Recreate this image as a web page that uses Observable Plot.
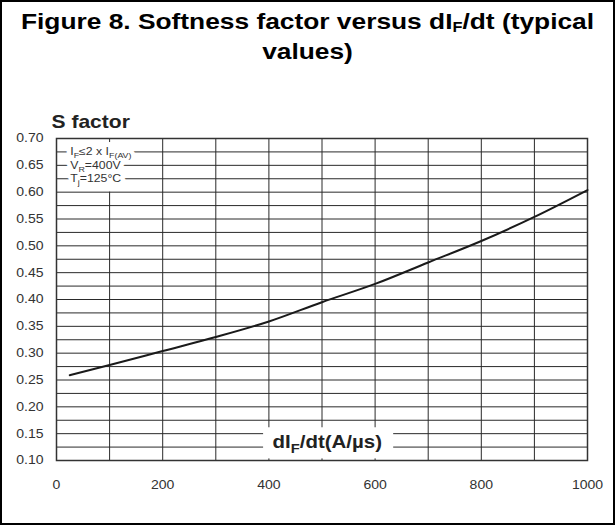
<!DOCTYPE html>
<html>
<head>
<meta charset="utf-8">
<script src="https://cdn.jsdelivr.net/npm/d3@7"></script>
<script src="https://cdn.jsdelivr.net/npm/@observablehq/plot@0.6"></script>
<style>
html, body { margin: 0; padding: 0; background: #fff; }
#fig { position: relative; width: 615px; height: 525px; overflow: hidden; font-family: "Liberation Sans", Arial, sans-serif; }
#chart { position: absolute; left: 0; top: 0; }
#title { position: absolute; left: 0; top: 7px; width: 615px; text-align: center; font-weight: bold; font-size: 22.5px; line-height: 30px; color: #000; transform: scaleX(1.17); transform-origin: center; }
#title sub { font-size: 0.62em; vertical-align: -0.2em; line-height: 0; }
#border { position: absolute; left: 0; top: 0; width: 615px; height: 525px; box-sizing: border-box; border: 2px solid #000; pointer-events: none; }
</style>
</head>
<body>
<div id="fig">
  <div id="chart"></div>
  <div id="title">Figure 8. Softness factor versus dI<sub>F</sub>/dt (typical<br>values)</div>
  <div id="border"></div>
</div>
<script>
// ---- data ----
const dIdt    = [25, 100, 200, 300, 400, 500, 600, 700, 800, 900, 1000];
const sFactor = [0.259, 0.278, 0.304, 0.330, 0.359, 0.395, 0.429, 0.469, 0.509, 0.554, 0.604];

const xTicks = [0, 200, 400, 600, 800, 1000];
const yTicks = [0.10, 0.15, 0.20, 0.25, 0.30, 0.35, 0.40, 0.45, 0.50, 0.55, 0.60, 0.65, 0.70];
const xGrid  = [0, 100, 200, 300, 400, 500, 600, 700, 800, 900, 1000];
const yGrid  = [0.10, 0.125, 0.15, 0.175, 0.20, 0.225, 0.25, 0.275, 0.30, 0.325, 0.35, 0.375, 0.40,
                0.425, 0.45, 0.475, 0.50, 0.525, 0.55, 0.575, 0.60, 0.625, 0.65, 0.675, 0.70];

const conditions      = ["I_{F}≤2 x I_{F(AV)}", "V_{R}=400V", "T_{j}=125°C"];
const conditionLevels = [0.675, 0.65, 0.625];
const yTitle = "S factor";
const xTitle = "dI_{F}/dt(A/µs)";

// annotation placement (data units)
const conditionX = 26;
const xTitlePos  = {x: 510, y: 0.134};
const xTitleBox  = {x1: 390, x2: 635, y1: 0.103, y2: 0.161};

const curve = dIdt.map((x, i) => ({x, s: sFactor[i]}));
const STRETCH = 1.17;
const gridColor = "#2a2a2a";

const condOpts = {x: () => conditionX, y: (d, i) => conditionLevels[i], text: d => d,
  textAnchor: "start", fontSize: 10.5};

const svg = Plot.plot({
  width: 615,
  height: 525,
  marginTop: 138,
  marginBottom: 65,
  marginLeft: 56,
  marginRight: 28,
  style: {fontFamily: "'Liberation Sans', Arial, sans-serif", fontSize: "12px", color: "#333", background: "transparent"},
  x: {domain: [0, 1000], ticks: xTicks, tickSize: 0, tickPadding: 20, tickFormat: d => String(d), label: null},
  y: {domain: [0.1, 0.7], ticks: yTicks, tickSize: 0, tickPadding: 13, tickFormat: d3.format(".2f"), label: null},
  marks: [
    Plot.ruleY(yGrid, {stroke: gridColor, strokeWidth: 1}),
    Plot.ruleX(xGrid.filter(v => v !== 100), {stroke: gridColor, strokeWidth: 1}),
    Plot.ruleX([100], {y1: 0.1, y2: 0.6, stroke: gridColor, strokeWidth: 1}),
    Plot.ruleX([100], {y1: 0.6925, y2: 0.7, stroke: gridColor, strokeWidth: 1}),
    Plot.rect([xTitleBox], {x1: "x1", x2: "x2", y1: "y1", y2: "y2", fill: "white"}),
    Plot.frame({stroke: "#333", strokeWidth: 1.5}),
    Plot.line(curve, {x: "x", y: "s", curve: "monotone-x", stroke: "#1a1a1a", strokeWidth: 2}),
    // white halo layer, then the text itself
    Plot.text(conditions, {...condOpts, fill: "white", stroke: "white", strokeWidth: 8}),
    Plot.text(conditions, {...condOpts, fill: "#333"}),
    Plot.text([xTitle], {x: () => xTitlePos.x, y: () => xTitlePos.y, text: d => d,
      fontWeight: "bold", fontSize: 17.5, fill: "#222"}),
    Plot.text([yTitle], {frameAnchor: "top-left", dx: -5, dy: -23, text: d => d,
      textAnchor: "start", fontWeight: "bold", fontSize: 18, fill: "#222"})
  ]
});
document.getElementById("chart").appendChild(svg);

// rich text (subscripts) and horizontal stretch of the glyphs to match the reference
d3.select(svg).selectAll("text").each(function () {
  const el = this;
  const txt = el.textContent;
  const fs = parseFloat(getComputedStyle(el).fontSize) || 12;
  if (txt.includes("_{")) {
    const re = /_\{([^}]*)\}/g;
    el.textContent = "";
    let last = 0, m, shifted = false;
    const shift = fs * 0.28;
    const addSpan = (s, sub) => {
      const ts = document.createElementNS("http://www.w3.org/2000/svg", "tspan");
      ts.textContent = s;
      if (sub) { ts.setAttribute("font-size", (fs * 0.72).toFixed(2)); if (!shifted) { ts.setAttribute("dy", shift); shifted = true; } }
      else if (shifted) { ts.setAttribute("dy", -shift); shifted = false; }
      el.appendChild(ts);
    };
    while ((m = re.exec(txt))) {
      if (m.index > last) addSpan(txt.slice(last, m.index), false);
      addSpan(m[1], true);
      last = re.lastIndex;
    }
    if (last < txt.length) addSpan(txt.slice(last), false);
  }
  el.setAttribute("stroke-linejoin", "round");
  const t = el.getAttribute("transform");
  if (t) {
    el.setAttribute("transform", t + ` scale(${STRETCH},1)`);
  } else {
    const x = parseFloat(el.getAttribute("x")) || 0;
    el.removeAttribute("x");
    el.setAttribute("transform", `translate(${x},0) scale(${STRETCH},1)`);
  }
});
</script>
</body>
</html>
